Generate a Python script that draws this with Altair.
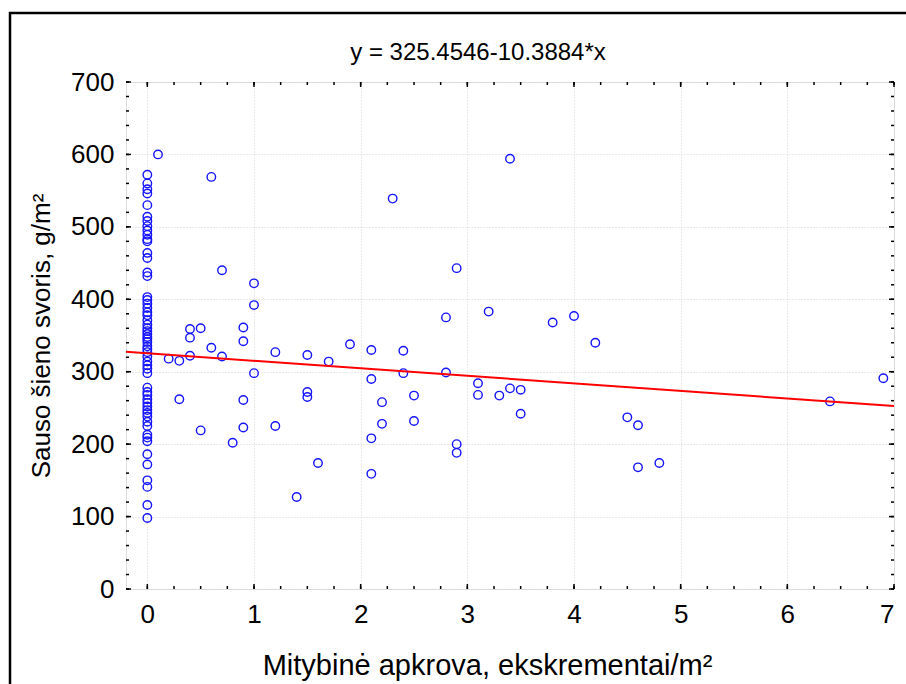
import altair as alt
import pandas as pd

# ---- data ----
zero_y = [572, 560, 552, 546, 530, 514, 508, 501, 495, 489, 483, 480, 464, 457,
          437, 432, 403, 399, 394, 388, 382, 378, 371, 365, 360, 356, 352, 348,
          345, 341, 335, 331, 327, 321, 314, 309, 304, 298, 278, 272, 268, 262,
          257, 252, 247, 243, 238, 231, 225, 213, 209, 204, 186, 172, 150, 141,
          116, 98]
other_x = [0.1, 0.2, 0.3, 0.3, 0.4, 0.4, 0.4, 0.5, 0.5, 0.6, 0.6, 0.7, 0.7, 0.8,
           0.9, 0.9, 0.9, 0.9, 1.0, 1.0, 1.0, 1.2, 1.2, 1.4, 1.5, 1.5, 1.5, 1.6,
           1.7, 1.9, 2.1, 2.1, 2.1, 2.1, 2.2, 2.2, 2.3, 2.4, 2.4, 2.5, 2.5, 2.8,
           2.8, 2.9, 2.9, 2.9, 3.1, 3.1, 3.2, 3.3, 3.4, 3.4, 3.5, 3.5, 3.8, 4.0,
           4.2, 4.5, 4.6, 4.6, 4.8, 6.4, 6.9]
other_y = [600, 318, 315, 262, 359, 347, 322, 360, 219, 569, 333, 440, 321, 202,
           361, 342, 261, 223, 422, 392, 298, 327, 225, 127, 323, 272, 265, 174,
           314, 338, 330, 290, 208, 159, 258, 228, 539, 329, 298, 267, 232, 375,
           299, 443, 200, 188, 284, 268, 383, 267, 594, 277, 275, 242, 368, 377,
           340, 237, 226, 168, 174, 259, 291]

intercept = 325.4546
slope = -10.3884
x_domain = [-0.2, 7]
y_domain = [0, 700]
x_major = [0, 1, 2, 3, 4, 5, 6, 7]
y_major = [0, 100, 200, 300, 400, 500, 600, 700]
x_minor = [i / 4 for i in range(0, 29)]
y_minor = list(range(0, 701, 20))

title_text = "y = 325.4546-10.3884*x"
x_title = "Mitybinė apkrova, ekskrementai/m²"
y_title = "Sauso šieno svoris, g/m²"

W, H = 768, 507
FONT = "Liberation Sans"

pts = pd.DataFrame({
    "x": [0.0] * len(zero_y) + other_x,
    "y": zero_y + other_y,
})
fit = pd.DataFrame({"x": x_domain,
                    "y": [intercept + slope * v for v in x_domain]})

xs = alt.Scale(domain=x_domain, nice=False, zero=False)
ys = alt.Scale(domain=y_domain, nice=False)

points = alt.Chart(pts).mark_point(
    shape="circle", filled=False, color="#1414ff", size=72, strokeWidth=1.4,
    opacity=1
).encode(
    x=alt.X("x:Q", scale=xs,
            axis=alt.Axis(values=x_major, title=x_title, format="d",
                          ticks=False, domain=False, grid=True,
                          gridDash=[1, 2], gridColor="#d4d4d4",
                          labelFontSize=26, labelPadding=12,
                          labelColor="black", labelFont=FONT,
                          titleFont=FONT, titleFontSize=29,
                          titleFontWeight="normal", titleColor="black",
                          titleBaseline="alphabetic", titleY=85,
                          titleX=361)),
    y=alt.Y("y:Q", scale=ys,
            axis=alt.Axis(values=y_major, title=y_title, format="d",
                          ticks=False, domain=False, grid=True,
                          gridDash=[1, 2], gridColor="#d4d4d4",
                          labelFontSize=26, labelPadding=12,
                          labelColor="black", labelFont=FONT,
                          titleFont=FONT, titleFontSize=26,
                          titleFontWeight="normal", titleColor="black",
                          titleBaseline="alphabetic", titleX=-77)),
)

line = alt.Chart(fit).mark_line(color="#ff0000", strokeWidth=2).encode(
    x=alt.X("x:Q", scale=xs), y=alt.Y("y:Q", scale=ys))

# inward axis ticks (minor and major) on all four sides
xmin_df = pd.DataFrame({"x": x_minor})
ymin_df = pd.DataFrame({"y": y_minor})
xmaj_df = pd.DataFrame({"x": x_major})
ymaj_df = pd.DataFrame({"y": y_major})

def xticks(df, length):
    b = alt.Chart(df).mark_rule(color="black", strokeWidth=1.5).encode(
        x=alt.X("x:Q", scale=xs), y=alt.value(H), y2=alt.value(H - length))
    t = alt.Chart(df).mark_rule(color="black", strokeWidth=1.5).encode(
        x=alt.X("x:Q", scale=xs), y=alt.value(0), y2=alt.value(length))
    return b + t

def yticks(df, length):
    l = alt.Chart(df).mark_rule(color="black", strokeWidth=1.5).encode(
        y=alt.Y("y:Q", scale=ys), x=alt.value(0), x2=alt.value(length))
    r = alt.Chart(df).mark_rule(color="black", strokeWidth=1.5).encode(
        y=alt.Y("y:Q", scale=ys), x=alt.value(W), x2=alt.value(W - length))
    return l + r

one = pd.DataFrame({"t": [title_text]})

frame = alt.Chart(one).mark_rect(
    fill=None, stroke="black", strokeWidth=2.5
).encode(x=alt.value(-116), x2=alt.value(W + 40),
         y=alt.value(-69), y2=alt.value(H + 120))

title = alt.Chart(one).mark_text(
    font=FONT, fontSize=24, color="black", align="center",
    baseline="alphabetic"
).encode(text="t:N", x=alt.value(352), y=alt.value(-22))

chart = alt.layer(
    frame, points, line,
    xticks(xmin_df, 3), xticks(xmaj_df, 5),
    yticks(ymin_df, 3), yticks(ymaj_df, 5),
    title,
).properties(
    width=W, height=H,
    padding={"left": 126, "top": 82, "right": 12, "bottom": 95},
    autosize=alt.AutoSizeParams(type="none"),
).configure_view(stroke="black", strokeWidth=2).configure(background="white")

chart.save("out.html", embed_options={"renderer": "svg", "actions": False})
